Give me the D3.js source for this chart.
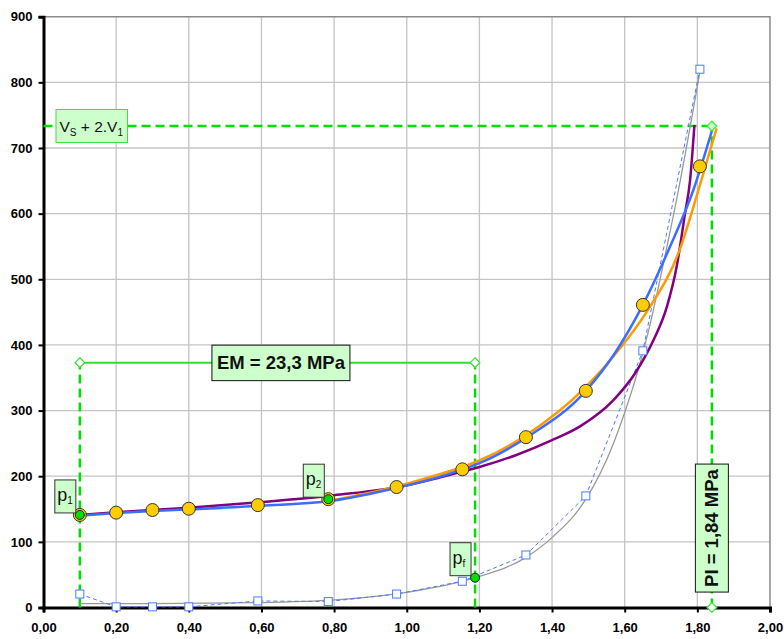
<!doctype html>
<html lang="en">
<head>
<meta charset="utf-8">
<title>Pressiometer curve</title>
<script src="https://d3js.org/d3.v7.min.js"></script>
<style>
  body { margin: 0; background: #fff; }
  svg { font-family: "Liberation Sans", Arial, sans-serif; }
</style>
</head>
<body>
<svg width="784" height="639"></svg>
<script>
// measured points : pressure (MPa), injected volume, creep volume
var pressure = [0.10, 0.20, 0.30, 0.40, 0.59, 0.784, 0.972, 1.153, 1.328, 1.493, 1.650, 1.807];
var volume   = [141, 144.5, 148.5, 150.5, 156, 165, 183.5, 210.5, 259.5, 330, 461, 672];
var creep    = [20.5, 1, 1, 1, 10, 9, 20.5, 40, 80, 170, 391, 820];

// fitted curves
var blueP   = [0.10, 0.20, 0.30, 0.40, 0.60, 0.80, 0.97, 1.09, 1.153, 1.20, 1.327, 1.493, 1.57, 1.65, 1.725, 1.789, 1.84];
var blueV   = [140, 144, 147, 149.5, 155, 163, 182, 199, 210.5, 220, 258, 330, 385, 461, 550, 636, 726];
var orangeP = [0.784, 0.97, 1.09, 1.153, 1.20, 1.327, 1.493, 1.58, 1.66, 1.752, 1.803, 1.853];
var orangeV = [162, 184, 203, 214, 224, 262, 336, 390, 450, 546, 636, 730];
var purpleP = [0.10, 0.20, 0.40, 0.60, 0.80, 1.00, 1.09, 1.153, 1.20, 1.30, 1.40, 1.477, 1.569, 1.63, 1.679, 1.716, 1.743, 1.766, 1.78, 1.792];
var purpleV = [141, 145, 152, 160.5, 171, 186, 198, 207, 214, 232, 255, 276, 316, 358, 407, 458, 519, 600, 651, 735];
var greyP   = [0.10, 0.30, 0.60, 0.80, 1.00, 1.188, 1.327, 1.403, 1.493, 1.569, 1.679, 1.697, 1.748, 1.807];
var greyV   = [6, 6, 7.5, 11.5, 23, 45.4, 76, 108, 165, 250, 453, 499, 636, 816];

// characteristic points
var p1 = [0.10, 141], p2 = [0.784, 165], pf = [1.188, 45.4];
var emLevel = 373, limitLevel = 733.5, limitP = 1.84;

var xTicks = [0, 0.2, 0.4, 0.6, 0.8, 1.0, 1.2, 1.4, 1.6, 1.8, 2.0];
var yTicks = [0, 100, 200, 300, 400, 500, 600, 700, 800, 900];

var plotL = 43.5, plotR = 770, plotT = 16.7, plotB = 607.5;
var x = d3.scaleLinear().domain([0, 2]).range([plotL, plotR]);
var y = d3.scaleLinear().domain([0, 900]).range([plotB, plotT]);
var svg = d3.select("svg");
var green = "#00e000";

function pts(a, b) { return a.map(function(d, i) { return [d, b[i]]; }); }
var smooth = d3.line().x(function(d) { return x(d[0]); }).y(function(d) { return y(d[1]); }).curve(d3.curveMonotoneX);
var straight = d3.line().x(function(d) { return x(d[0]); }).y(function(d) { return y(d[1]); });

// grid
svg.append("g").selectAll("line").data(xTicks.slice(1, -1)).enter().append("line")
  .attr("x1", function(d) { return x(d); }).attr("x2", function(d) { return x(d); })
  .attr("y1", plotT).attr("y2", plotB).attr("stroke", "#c4c4c4").attr("stroke-width", 1.3);
svg.append("g").selectAll("line").data(yTicks.slice(1, -1)).enter().append("line")
  .attr("y1", function(d) { return y(d); }).attr("y2", function(d) { return y(d); })
  .attr("x1", plotL).attr("x2", plotR).attr("stroke", "#c4c4c4").attr("stroke-width", 1.3);
svg.append("path").attr("d", "M" + plotL + "," + plotT + "H" + plotR + "V" + plotB)
  .attr("fill", "none").attr("stroke", "#8a8a8a").attr("stroke-width", 1.5);

// axes
var yAxis = svg.append("g").attr("transform", "translate(" + plotL + ",0)")
  .call(d3.axisLeft(y).tickValues(yTicks).tickSize(5).tickPadding(6));
var xAxis = svg.append("g").attr("transform", "translate(0," + plotB + ")")
  .call(d3.axisBottom(x).tickValues(xTicks).tickSize(5).tickPadding(10)
    .tickFormat(function(d) { return d3.format(".2f")(d).replace(".", ","); }));
[xAxis, yAxis].forEach(function(a) {
  a.select(".domain").attr("stroke", "#000").attr("stroke-width", 3);
  a.selectAll(".tick line").attr("stroke", "#000").attr("stroke-width", 2);
  a.selectAll(".tick text").attr("font-size", 13).attr("font-weight", "bold")
    .attr("font-family", "Liberation Sans, Arial, sans-serif").attr("fill", "#000");
});

// construction lines
function seg(x1, y1, x2, y2, dashed, col, w) {
  svg.append("line").attr("x1", x(x1)).attr("y1", y(y1)).attr("x2", x(x2)).attr("y2", y(y2))
    .attr("stroke", col).attr("stroke-width", w).attr("stroke-dasharray", dashed ? "9,5" : null);
}
seg(p1[0], 0, p1[0], emLevel, true, green, 2.5);
seg(pf[0], 0, pf[0], emLevel, true, green, 2.5);
seg(p1[0], emLevel, pf[0], emLevel, false, "#33dd33", 2);
seg(0, limitLevel, limitP, limitLevel, true, green, 2.5);
seg(limitP, 0, limitP, limitLevel, true, green, 2.5);

// curves
svg.append("path").attr("d", smooth(pts(greyP, greyV))).attr("fill", "none").attr("stroke", "#999").attr("stroke-width", 1.3);
svg.append("path").attr("d", straight(pts(pressure, creep))).attr("fill", "none").attr("stroke", "#4a7bff")
  .attr("stroke-width", 1).attr("stroke-dasharray", "4,3");
svg.append("path").attr("d", smooth(pts(purpleP, purpleV))).attr("fill", "none").attr("stroke", "#800080").attr("stroke-width", 2.5);
svg.append("path").attr("d", smooth(pts(orangeP, orangeV))).attr("fill", "none").attr("stroke", "#ff9900").attr("stroke-width", 2.5);
svg.append("path").attr("d", smooth(pts(blueP, blueV))).attr("fill", "none").attr("stroke", "#3d6dff").attr("stroke-width", 2.5);

// markers
svg.append("g").selectAll("rect").data(pts(pressure, creep)).enter().append("rect")
  .attr("x", function(d) { return x(d[0]) - 4; }).attr("y", function(d) { return y(d[1]) - 4; })
  .attr("width", 8).attr("height", 8).attr("fill", "#fff").attr("stroke", "#4a7bff").attr("stroke-width", 1);
svg.append("g").selectAll("circle").data(pts(pressure, volume)).enter().append("circle")
  .attr("cx", function(d) { return x(d[0]); }).attr("cy", function(d) { return y(d[1]); })
  .attr("r", 6.5).attr("fill", "#ffcc00").attr("stroke", "#333").attr("stroke-width", 1);
svg.append("g").selectAll("circle").data([p1, p2, pf]).enter().append("circle")
  .attr("cx", function(d) { return x(d[0]); }).attr("cy", function(d) { return y(d[1]); })
  .attr("r", 4.5).attr("fill", "#00dd00").attr("stroke", "#222").attr("stroke-width", 1);

function diamond(px, py, fill, col) {
  svg.append("path").attr("d", d3.symbol().type(d3.symbolDiamond2).size(60)())
    .attr("transform", "translate(" + x(px) + "," + y(py) + ")")
    .attr("fill", fill).attr("stroke", col).attr("stroke-width", 1.2);
}
diamond(p1[0], emLevel, "#fff", "#33dd33");
diamond(pf[0], emLevel, "#fff", "#33dd33");
diamond(limitP, limitLevel, "#ccffcc", "#33ee33");
diamond(limitP, 0, "#fff", "#33ee33");

// labels
function box(bx, by, w, h, stroke) {
  svg.append("rect").attr("x", bx).attr("y", by).attr("width", w).attr("height", h)
    .attr("fill", "#ccffcc").attr("stroke", stroke).attr("stroke-width", 1);
}
function pLabel(pt, sub) {
  var bx = x(pt[0]) - 25, by = y(pt[1]) - 35;
  box(bx, by, 21, 33, "#333");
  var t = svg.append("text").attr("x", bx + 2.5).attr("y", by + 21).attr("font-size", 18).attr("fill", "#111");
  t.append("tspan").text("p");
  t.append("tspan").attr("dy", 3).attr("font-size", 10).text(sub);
}
pLabel(p1, "1");
pLabel(p2, "2");
pLabel(pf, "f");

box(x(0) + 12.5, y(limitLevel) - 16.5, 71.5, 33, "#44dd44");
var vt = svg.append("text").attr("x", x(0) + 16).attr("y", y(limitLevel) + 6.5).attr("font-size", 15.5).attr("fill", "#111");
vt.append("tspan").text("V");
vt.append("tspan").attr("dy", 4).attr("font-size", 10).text("S");
vt.append("tspan").attr("dy", -4).text(" + 2.V");
vt.append("tspan").attr("dy", 4).attr("font-size", 10).text("1");

var emX = (x(p1[0]) + x(pf[0])) / 2 + 3.5;
box(emX - 69, y(emLevel) - 17.5, 138, 35.5, "#111");
svg.append("text").attr("x", emX).attr("y", y(emLevel) + 6.5).attr("text-anchor", "middle")
  .attr("font-size", 18.5).attr("font-weight", "bold").attr("fill", "#111").text("EM = 23,3 MPa");

var piY = y(121);
box(x(limitP) - 16.5, piY - 64, 33, 128, "#111");
svg.append("text").attr("transform", "translate(" + (x(limitP) + 6.5) + "," + piY + ") rotate(-90)")
  .attr("text-anchor", "middle").attr("font-size", 18.5).attr("font-weight", "bold").attr("fill", "#111")
  .text("PI = 1,84 MPa");
</script>
</body>
</html>
